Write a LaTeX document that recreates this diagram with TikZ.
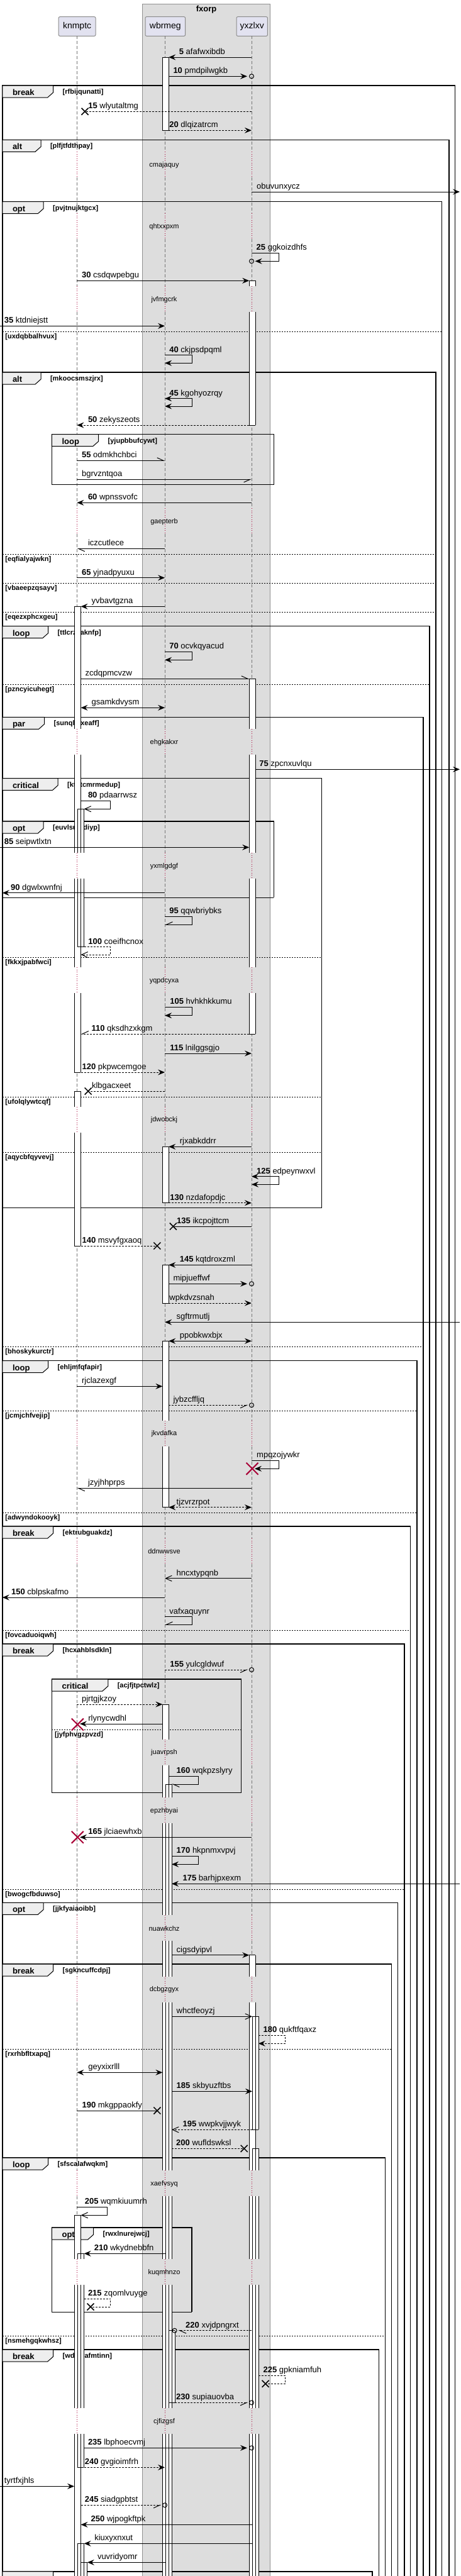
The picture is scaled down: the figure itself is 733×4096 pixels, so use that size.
\documentclass[tikz,border=0pt]{standalone}
\usepackage{fontspec}
\setmainfont{Liberation Sans}
\usetikzlibrary{arrows.meta}
\definecolor{boxbg}{HTML}{DDDDDD}
\definecolor{boxln}{HTML}{909090}
\definecolor{partbg}{HTML}{E2E2F0}
\definecolor{partln}{HTML}{8C8C8C}
\definecolor{tabbg}{HTML}{EEEEEE}
\definecolor{dred}{HTML}{A80036}
\definecolor{lgray}{HTML}{777777}
\newcommand\FMsg{\fontsize{13}{15}\selectfont}
\newcommand\FPart{\fontsize{14}{16}\selectfont}
\newcommand\FDly{\fontsize{11}{13}\selectfont}
\newcommand\FKey{\fontsize{13}{15}\selectfont\bfseries}
\newcommand\FGrd{\fontsize{11}{13}\selectfont\bfseries}
\tikzset{
 sol/.style={line width=1pt},
 dsh/.style={line width=1pt, dash pattern=on 3pt off 2pt},
 arF/.style={-{Stealth[length=11pt,width=9pt,inset=4pt]}},
 arB/.style={{Stealth[length=11pt,width=9pt,inset=4pt]}-{Stealth[length=11pt,width=9pt,inset=4pt]}},
 arO/.style={-{Straight Barb[length=10pt,width=9pt]}},
 arH/.style={-{Straight Barb[harpoon,length=10pt,width=9pt]}},
 arHS/.style={-{Straight Barb[harpoon,swap,length=10pt,width=9pt]}},
 lab/.style={anchor=base west, inner sep=0pt, font=\FMsg},
 kw/.style={anchor=base west, inner sep=0pt, font=\FKey},
 gd/.style={anchor=base west, inner sep=0pt, font=\FGrd},
 dly/.style={inner sep=0pt, font=\FDly},
 frline/.style={line width=1.5pt},
 tabst/.style={fill=tabbg, draw=black, line width=1pt},
 sepline/.style={line width=1pt, dash pattern=on 2pt off 2pt},
 lifeline/.style={draw=lgray, line width=0.8pt, dash pattern=on 5pt off 3pt},
 delayline/.style={draw=dred, line width=0.8pt, dash pattern=on 1pt off 2.5pt},
 part/.style={draw=partln, fill=partbg, line width=1pt, rounded corners=2pt, font=\FPart, inner sep=0pt, minimum height=30.6pt},
 barln/.style={line width=1pt}
}
\newcommand\Msg[7]{%
  \coordinate (#1s) at (#3,#2);
  \coordinate (#1e) at (#4,#2);
  \draw[#5] (#1s) -- (#1e);
  \node[lab] (#1l) at (#6,#2-4.5) {#7};}
\newcommand\SelfMsg[9]{%
  \coordinate (#1s) at (#2,#4);
  \coordinate (#1e) at (#6,#5);
  \draw[#7] (#1s) -- (#3,#4) -- (#3,#5) -- (#1e);
  \node[lab] (#1l) at (#8,#4-4.5) {#9};}
\newcommand\XM[2]{\draw[line width=1.5pt] (#1-5.5,#2-5.5) -- (#1+5.5,#2+5.5) (#1-5.5,#2+5.5) -- (#1+5.5,#2-5.5);}
\newcommand\RX[2]{\draw[dred,line width=2pt] (#1-9.5,#2-9.5) -- (#1+9.5,#2+9.5) (#1-9.5,#2+9.5) -- (#1+9.5,#2-9.5);}
\newcommand\EndCirc[2]{\draw[line width=1pt] (#1,#2) circle[radius=3.5];}
\newcommand\Frm[8]{%
  \draw[frline] (#3,#5) -- (#3,#2) -- (#4,#2) -- (#4,#5);
  \filldraw[tabst] (#3,#2) -- (#6,#2) -- (#6,#2+11) -- (#6-9,#2+19) -- (#3,#2+19) -- cycle;
  \node[kw] (#1k) at (#3+16,#2+15.5) {#7};
  \node[gd] (#1g) at (#6+14.8,#2+13.5) {#8};}
\newcommand\FrSep[5]{%
  \draw[sepline] (#3,#2) -- (#4,#2);
  \node[gd] (#1) at (#3+4.5,#2+11.5) {#5};}
\newcommand\Dly[3]{%
  \node[dly] (#1) at (261,#2) {#3};}
\newcommand\BSegFill[3]{\fill[white] (#1,#2) rectangle (#1+10,#3);}
\newcommand\BSegDraw[3]{\draw[barln] (#1,#2) -- (#1,#3) (#1+10,#2) -- (#1+10,#3);}
\newcommand\BCapDraw[2]{\draw[barln] (#1,#2) -- (#1+10,#2);}
\newcommand\BCapNone[2]{}
\newcommand\BarList{%
 % knmptc
 \bseg{118.1}{964.3}{1159.3}\bcap{118.1}{964.3}
 \bseg{118.1}{1200.3}{1356.3}
 \bseg{118.1}{1397.3}{1538.3}
 \bseg{118.1}{1579.3}{1705}\bcap{118.1}{1705}
 \bseg{123.3}{1286.3}{1356.3}\bcap{123.3}{1286.3}
 \bseg{123.3}{1397.3}{1505.7}\bcap{123.3}{1505.7}
 \bseg{118.1}{1735}{1760}\bcap{118.1}{1735}
 \bseg{118.1}{1801}{1981}\bcap{118.1}{1981}
 \bseg{118.1}{3522.3}{3592.3}\bcap{118.1}{3522.3}
 \bseg{118.1}{3633.3}{3829.3}
 \bseg{118.1}{3870.3}{4110}
 \bseg{123.3}{3583.3}{3592.3}\bcap{123.3}{3583.3}
 \bseg{123.3}{3633.3}{3829.3}
 \bseg{123.3}{3870.3}{3923.3}\bcap{123.3}{3923.3}
 \bseg{123.3}{4044.3}{4110}\bcap{123.3}{4044.3}
 \bseg{128.5}{4074.3}{4110}\bcap{128.5}{4074.3}
 % wbrmeg
 \bseg{258.4}{91}{207.3}\bcap{258.4}{91}\bcap{258.4}{207.3}
 \bseg{258.4}{1823.3}{1912.7}\bcap{258.4}{1823.3}\bcap{258.4}{1912.7}
 \bseg{258.4}{2011.3}{2072}\bcap{258.4}{2011.3}\bcap{258.4}{2072}
 \bseg{258.4}{2132.3}{2259}\bcap{258.4}{2132.3}
 \bseg{258.4}{2300}{2396.7}\bcap{258.4}{2396.7}
 \bseg{258.4}{2710}{2765.7}\bcap{258.4}{2710}
 \bseg{258.4}{2806.7}{2858.3}
 \bseg{258.4}{2899.3}{3045.3}
 \bseg{258.4}{3086.3}{3142.7}
 \bseg{258.4}{3183.7}{3451.3}
 \bseg{258.4}{3492.3}{3592.3}
 \bseg{258.4}{3633.3}{3829.3}
 \bseg{258.4}{3870.3}{4110}
 \bseg{263}{2837}{2858.3}\bcap{263}{2837}
 \bseg{263}{2899.3}{3045.3}
 \bseg{263}{3086.3}{3142.7}
 \bseg{263}{3183.7}{3451.3}
 \bseg{263}{3492.3}{3592.3}
 \bseg{263}{3633.3}{3829.3}
 \bseg{263}{3870.3}{4110}
 \bseg{268.2}{3705.7}{3820.3}\bcap{268.2}{3705.7}\bcap{268.2}{3820.3}
 % yxzlxv
 \bseg{396.2}{446.3}{455.3}\bcap{396.2}{446.3}
 \bseg{396.2}{496.3}{676}\bcap{396.2}{676}
 \bseg{396.2}{1079.3}{1159.3}\bcap{396.2}{1079.3}
 \bseg{396.2}{1200.3}{1356.3}
 \bseg{396.2}{1397.3}{1538.3}
 \bseg{396.2}{1579.3}{1644}\bcap{396.2}{1644}
 \bseg{396.2}{3108.7}{3142.7}\bcap{396.2}{3108.7}
 \bseg{396.2}{3183.7}{3451.3}
 \bseg{396.2}{3492.3}{3592.3}
 \bseg{396.2}{3633.3}{3829.3}
 \bseg{396.2}{3870.3}{4110}
 \bseg{401}{3206.3}{3386.3}\bcap{401}{3206.3}\bcap{401}{3386.3}
 \bseg{401}{3416.3}{3451.3}\bcap{401}{3416.3}
 \bseg{401}{3492.3}{3592.3}
 \bseg{401}{3633.3}{3829.3}
 \bseg{401}{3870.3}{4110}
}
\begin{document}
\begin{tikzpicture}[x=1pt,y=-1pt]
\useasboundingbox (0,0) rectangle (733,4096);
\fill[white] (0,0) rectangle (733,4096);
% group box
\filldraw[fill=boxbg, draw=boxln, line width=0.8pt] (226.8,6) rectangle (429.2,4120);
\node[font=\FKey, inner sep=0pt] (fxorp) at (328,15) {fxorp};
% participants
\node[part, minimum width=58.8pt] (knmptc) at (122.6,42) {knmptc};
\node[part, minimum width=63.6pt] (wbrmeg) at (262.8,42) {wbrmeg};
\node[part, minimum width=49.4pt] (yxzlxv) at (400.7,42) {yxzlxv};
% lifelines
\foreach \a/\b in {57.3/241.3, 282.3/339.3, 380.3/455.3, 496.3/808.3, 849.3/1159.3, 1200.3/1356.3, 1397.3/1538.3, 1579.3/1760, 1801/2259, 2300/2446, 2487/2765.7, 2806.7/2858.3, 2899.3/3045.3, 3086.3/3142.7, 3183.7/3451.3, 3492.3/3592.3, 3633.3/3829.3, 3870.3/4110}{
  \foreach \x in {122.4,262.1,400}{\draw[lifeline] (\x,\a) -- (\x,\b);}
}
\foreach \c in {262.3, 360.3, 476.3, 829.3, 1180.3, 1377.3, 1559.3, 1781, 2280, 2467, 2786.7, 2879.3, 3066.3, 3163.7, 3472.3, 3613.3, 3850.3}{
  \foreach \x in {122.4,262.1,400}{\draw[delayline] (\x,\c-21) -- (\x,\c+20);}
}
% delay texts
\Dly{d1}{262.3}{cmajaquy}
\Dly{d2}{360.3}{qhtxxpxm}
\Dly{d3}{476.3}{jvfmgcrk}
\Dly{d4}{829.3}{gaepterb}
\Dly{d5}{1180.3}{ehgkakxr}
\Dly{d6}{1377.3}{yxmlgdgf}
\Dly{d7}{1559.3}{yqpdcyxa}
\Dly{d8}{1781}{jdwobckj}
\Dly{d9}{2280}{jkvdafka}
\Dly{d10}{2467}{ddnwwsve}
\Dly{d11}{2786.7}{juavrpsh}
\Dly{d12}{2879.3}{epzhbyai}
\Dly{d13}{3066.3}{nuawkchz}
\Dly{d14}{3163.7}{dcbgzgyx}
\Dly{d15}{3472.3}{xaefvsyq}
\Dly{d16}{3613.3}{kuqmhnzo}
\Dly{d17}{3850.3}{cjfizgsf}
% frames
\Frm{f1}{136}{3.8}{723.3}{4120}{84.7}{break}{[rfbijqunatti]}
\Frm{f2}{222.3}{3.8}{713.9}{4120}{65}{alt}{[plfjtfdthpay]}
\Frm{f3}{320.7}{3.8}{702.6}{4120}{69.2}{opt}{[pvjtnujktgcx]}
\FrSep{s1}{527}{3.8}{702.6}{[uxdqbbalhvux]}
\Frm{f4}{592}{3.8}{693.2}{4120}{65}{alt}{[mkoocsmszjrx]}
\Frm{f5}{690.7}{82.4}{435.3}{770.7}{156.7}{loop}{[yjupbbufcywt]}
\draw[frline] (82.4,770.7) -- (435.3,770.7);
\FrSep{s2}{881.3}{3.8}{693.2}{[eqfialyajwkn]}
\FrSep{s3}{927.3}{3.8}{693.2}{[vbaeepzqsayv]}
\FrSep{s4}{973.3}{3.8}{693.2}{[eqezxphcxgeu]}
\Frm{f6}{995.7}{3.8}{682.8}{4120}{76.7}{loop}{[ttlcrzsaknfp]}
\FrSep{s5}{1088}{3.8}{682.8}{[pzncyicuhegt]}
\Frm{f7}{1140.3}{3.8}{673}{4120}{70.6}{par}{[sunqljdxeaff]}
\Frm{f8}{1237.7}{3.8}{511.5}{1920.7}{92.2}{critical}{[ktbtcmrmedup]}
\draw[frline] (3.8,1920.7) -- (511.5,1920.7);
\Frm{f9}{1306}{3.8}{435.3}{1427.3}{69.2}{opt}{[euvlsutkdiyp]}
\draw[frline] (3.8,1427.3) -- (435.3,1427.3);
\FrSep{s6}{1522.3}{3.8}{511.5}{[fkkxjpabfwci]}
\FrSep{s7}{1744.3}{3.8}{511.5}{[ufolqlywtcqf]}
\FrSep{s8}{1832.3}{3.8}{511.5}{[aqycbfqyvevj]}
\FrSep{s9}{2141.3}{3.8}{673}{[bhoskykurctr]}
\Frm{f10}{2163.7}{3.8}{663}{4120}{76.7}{loop}{[ehljmfqfapir]}
\FrSep{s10}{2243.3}{3.8}{663}{[jcmjchfvejip]}
\FrSep{s11}{2405}{3.8}{663}{[adwyndokooyk]}
\Frm{f11}{2427}{3.8}{652.7}{4120}{84.7}{break}{[ektrubguakdz]}
\FrSep{s12}{2592.3}{3.8}{652.7}{[fovcaduoiqwh]}
\Frm{f12}{2614}{3.8}{642.8}{4120}{84.7}{break}{[hcxahblsdkln]}
\Frm{f13}{2670}{82.4}{383.5}{2850.3}{171.8}{critical}{[acjfjtpctwlz]}
\draw[frline] (82.4,2850.3) -- (383.5,2850.3);
\FrSep{s13}{2750.3}{82.4}{383.5}{[jyfphvgzpvzd]}
\FrSep{s14}{3004}{3.8}{642.8}{[bwogcfbduwso]}
\Frm{f14}{3025.3}{3.8}{632.5}{4120}{69.2}{opt}{[jjkfyaiaoibb]}
\Frm{f15}{3123}{3.8}{622.6}{4120}{84.7}{break}{[sgkncuffcdpj]}
\FrSep{s15}{3258.3}{3.8}{622.6}{[rxrhbfltxapq]}
\Frm{f16}{3431}{3.8}{612.7}{4120}{76.7}{loop}{[sfscalafwqkm]}
\Frm{f17}{3542}{82.4}{305}{3676.3}{148.7}{opt}{[rwxlnurejwcj]}
\draw[frline] (82.4,3676.3) -- (305,3676.3);
\FrSep{s16}{3714.3}{3.8}{612.7}{[nsmehgqkwhsz]}
\Frm{f18}{3736}{3.8}{602.4}{4120}{84.7}{break}{[wdfevafmtinn]}
\draw[frline] (3.8,4120) -- (3.8,4088.7) -- (592,4088.7) -- (592,4120);
\filldraw[tabst] (3.8,4088.7) -- (84.7,4088.7) -- (84.7,4099.7) -- (75.7,4107.7) -- (3.8,4107.7) -- cycle;
% activation bars
\let\bseg\BSegFill \let\bcap\BCapNone \BarList
\let\bseg\BSegDraw \let\bcap\BCapDraw \BarList
% messages
\Msg{m5}{91}{400}{268.2}{sol,arF}{284.7}{\textbf{5} afafwxibdb}
\Msg{m10}{121.3}{268.2}{393}{sol,arF}{275.3}{\textbf{10} pmdpilwgkb}
\EndCirc{400}{121.3}
\Msg{m15}{177.3}{400}{135}{dsh}{140.2}{\textbf{15} wlyutaltmg}
\XM{135}{177.3}
\Msg{m20}{207.3}{268.2}{400}{dsh,arF}{269.2}{\textbf{20} dlqizatrcm}
\Msg{obuv}{305}{400}{731}{sol,arF}{408}{obuvunxycz}
\SelfMsg{m25}{400}{443.3}{402.3}{415.3}{405.6}{sol,arF}{407.5}{\textbf{25} ggkoizdhfs}
\EndCirc{400}{415.3}
\Msg{m30}{446.3}{122.4}{396.2}{sol,arF}{129.9}{\textbf{30} csdqwpebgu}
\Msg{m35}{518.3}{0}{262.1}{sol,arF}{6.6}{\textbf{35} ktdniejstt}
\SelfMsg{m40}{262.1}{305.4}{564.7}{577.3}{262.1}{sol,arF}{269.2}{\textbf{40} ckjpsdpqml}
\SelfMsg{m45}{262.1}{305.4}{633.7}{646}{262.1}{sol,arB}{269.2}{\textbf{45} kgohyozrqy}
\Msg{m50}{676}{396.2}{122.4}{dsh,arF}{139.8}{\textbf{50} zekyszeots}
\Msg{m55}{732.3}{122.4}{262.1}{sol,arH}{129.9}{\textbf{55} odmkhchbci}
\Msg{bgrv}{762.3}{122.4}{400}{sol,arHS}{129.9}{bgrvzntqoa}
\Msg{m60}{799.3}{400}{122.4}{sol,arF}{139.8}{\textbf{60} wpnssvofc}
\Msg{iczc}{872.3}{262.1}{122.4}{sol,arH}{139.8}{iczcutlece}
\Msg{m65}{918.7}{122.4}{262.1}{sol,arF}{129.9}{\textbf{65} yjnadpyuxu}
\Msg{yvba}{964.3}{262.1}{128.5}{sol,arF}{145.4}{yvbavtgzna}
\SelfMsg{m70}{262.1}{305.4}{1036.3}{1049.3}{262.1}{sol,arF}{269.2}{\textbf{70} ocvkqyacud}
\Msg{zcdq}{1079.3}{128.5}{396.2}{sol,arH}{135.5}{zcdqpmcvzw}
\Msg{gsam}{1125.3}{128.5}{262.1}{sol,arB}{145.4}{gsamkdvysm}
\Msg{m75}{1223.3}{406.1}{731}{sol,arF}{412.2}{\textbf{75} zpcnxuvlqu}
\SelfMsg{m80}{128.5}{175.5}{1273.3}{1286.3}{133.6}{sol,arO}{139.8}{\textbf{80} pdaarrwsz}
\Msg{m85}{1347.3}{0}{396.2}{sol,arF}{6.6}{\textbf{85} seipwtlxtn}
\Msg{m90}{1419.7}{262.1}{3.8}{sol,arF}{16.9}{\textbf{90} dgwlxwnfnj}
\SelfMsg{m95}{262.1}{305.4}{1457.3}{1470.3}{262.1}{sol,arHS}{269.2}{\textbf{95} qqwbriybks}
\SelfMsg{m100}{133.6}{175.5}{1505.7}{1518}{128.5}{dsh,arO}{140.2}{\textbf{100} coeifhcnox}
\SelfMsg{m105}{262.1}{305.4}{1601.3}{1614.7}{262.1}{sol,arF}{270.1}{\textbf{105} hvhkhkkumu}
\Msg{m110}{1644}{396.2}{128.5}{dsh,arHS}{145.4}{\textbf{110} qksdhzxkgm}
\Msg{m115}{1675}{262.1}{400}{sol,arF}{270.1}{\textbf{115} lnilggsgjo}
\Msg{m120}{1705}{128.5}{262.1}{dsh,arF}{130.4}{\textbf{120} pkpwcemgoe}
\Msg{klbg}{1735}{262.1}{140.2}{dsh}{145.9}{klbgacxeet}
\XM{140.2}{1735}
\Msg{rjxa}{1823.3}{400}{268.2}{sol,arF}{285.6}{rjxabkddrr}
\SelfMsg{m125}{400}{443.3}{1870.7}{1883.3}{400}{sol,arB}{408}{\textbf{125} edpeynwxvl}
\Msg{m130}{1912.7}{268.2}{400}{dsh,arF}{270.1}{\textbf{130} nzdafopdjc}
\Msg{m135}{1950}{400}{275.3}{sol}{281}{\textbf{135} ikcpojttcm}
\XM{275.3}{1950}
\Msg{m140}{1981}{128.5}{249.9}{dsh}{130.4}{\textbf{140} msvyfgxaoq}
\XM{249.9}{1981}
\Msg{m145}{2011.3}{400}{268.2}{sol,arF}{285.6}{\textbf{145} kqtdroxzml}
\Msg{mipj}{2041.3}{268.2}{393}{sol,arF}{275.3}{mipjueffwf}
\EndCirc{400}{2041.3}
\Msg{wpkd}{2072}{268.2}{400}{dsh,arF}{269.2}{wpkdvzsnah}
\Msg{sgft}{2102.3}{731}{262.1}{sol,arF}{280.5}{sgftrmutlj}
\Msg{ppob}{2132.3}{268.2}{400}{sol,arB}{285.6}{ppobkwxbjx}
\Msg{rjcl}{2204.3}{122.4}{258.4}{sol,arF}{129.9}{rjclazexgf}
\Msg{jybz}{2234.3}{268.2}{394.4}{dsh,arHS}{275.3}{jybzcffljq}
\EndCirc{400}{2234.3}
\SelfMsg{mpqz}{400}{443.3}{2322.3}{2335.3}{405}{sol,arF}{408}{mpqzojywkr}
\RX{401}{2335.3}
\Msg{jzyj}{2366.3}{400}{122.4}{sol,arH}{139.8}{jzyjhhprps}
\Msg{tjzv}{2396.7}{268.2}{400}{dsh,arB}{280.5}{tjzvrzrpot}
\Msg{hncx}{2509.7}{400}{262.1}{sol,arO}{280.5}{hncxtypqnb}
\Msg{m150}{2540}{262.1}{3.8}{sol,arF}{17.9}{\textbf{150} cblpskafmo}
\SelfMsg{vafx}{262.1}{305.4}{2570.7}{2583.3}{262.1}{sol,arHS}{269.2}{vafxaquynr}
\Msg{m155}{2655}{262.1}{394.4}{dsh,arHS}{270.1}{\textbf{155} yulcgldwuf}
\EndCirc{400}{2655}
\Msg{pjrt}{2710}{122.4}{258.4}{dsh,arF}{129.9}{pjrtgjkzoy}
\Msg{rlyn}{2741}{258.4}{127}{sol,arF}{140.2}{rlynycwdhl}
\RX{123.3}{2742}
\SelfMsg{m160}{268.2}{315.3}{2824.3}{2837}{273}{sol,arH}{280.5}{\textbf{160} wqkpzslyry}
\Msg{m165}{2921.3}{400}{127}{sol,arF}{140.2}{\textbf{165} jlciaewhxb}
\RX{123.3}{2921.3}
\SelfMsg{m170}{273}{315.3}{2951.3}{2964.3}{273}{sol,arF}{280.5}{\textbf{170} hkpnmxvpvj}
\Msg{m175}{2995.3}{731}{273}{sol,arF}{290.4}{\textbf{175} barhjpxexm}
\Msg{cigs}{3108.7}{273}{396.2}{sol,arF}{280.5}{cigsdyipvl}
\Msg{whct}{3206.3}{273}{401}{sol,arO}{280.5}{whctfeoyzj}
\SelfMsg{m180}{410.8}{453.2}{3236.3}{3249.3}{410.8}{dsh,arF}{418.4}{\textbf{180} qukftfqaxz}
\Msg{geyx}{3295.3}{122.4}{258.4}{sol,arB}{140.2}{geyxixrlll}
\Msg{m185}{3325.3}{273}{401}{sol,arF}{280.5}{\textbf{185} skbyuzftbs}
\Msg{m190}{3356}{122.4}{249.9}{sol}{130.4}{\textbf{190} mkgppaokfy}
\XM{249.9}{3356}
\Msg{m195}{3386.3}{401}{273}{dsh,arO}{290.4}{\textbf{195} wwpkvjjwyk}
\Msg{m200}{3416.3}{273}{388.2}{dsh}{280}{\textbf{200} wufldswksl}
\XM{388.2}{3416.3}
\SelfMsg{m205}{122.4}{170.4}{3509.3}{3522.3}{128.5}{sol,arO}{134.6}{\textbf{205} wqmkiuumrh}
\Msg{m210}{3583.3}{263}{133.6}{sol,arF}{149.6}{\textbf{210} wkydnebbfn}
\SelfMsg{m215}{133.6}{175.5}{3655.3}{3668}{144}{dsh}{139.8}{\textbf{215} zqomlvuyge}
\XM{144}{3668}
\Msg{m220}{3705.7}{400}{283.8}{dsh,arH}{295}{\textbf{220} xvjdpngrxt}
\EndCirc{277.6}{3705.7}
\SelfMsg{m225}{410.8}{453.2}{3777}{3790.3}{422.1}{dsh}{418.4}{\textbf{225} gpkniamfuh}
\XM{422.1}{3790.3}
\Msg{m230}{3820.3}{278.1}{394.4}{dsh,arHS}{280}{\textbf{230} supiauovba}
\EndCirc{400}{3820.3}
\Msg{m235}{3892.3}{133.6}{393}{sol,arF}{139.8}{\textbf{235} lbphoecvmj}
\EndCirc{400}{3892.3}
\Msg{m240}{3923.3}{133.6}{262.1}{dsh,arF}{134.6}{\textbf{240} gvgioimfrh}
\Msg{tyrt}{3953.3}{0}{118.1}{sol,arF}{6.6}{tyrtfxjhls}
\Msg{m245}{3983.3}{128.5}{256.5}{dsh,arHS}{134.6}{\textbf{245} siadgpbtst}
\EndCirc{262.1}{3983.3}
\Msg{m250}{4014.3}{401}{128.5}{sol,arF}{144.5}{\textbf{250} wjpogkftpk}
\Msg{kiux}{4044.3}{401}{133.6}{sol,arF}{150.1}{kiuxyxnxut}
\Msg{vuvr}{4074.3}{263}{138.8}{sol,arF}{154.8}{vuvridyomr}
\end{tikzpicture}
\end{document}
